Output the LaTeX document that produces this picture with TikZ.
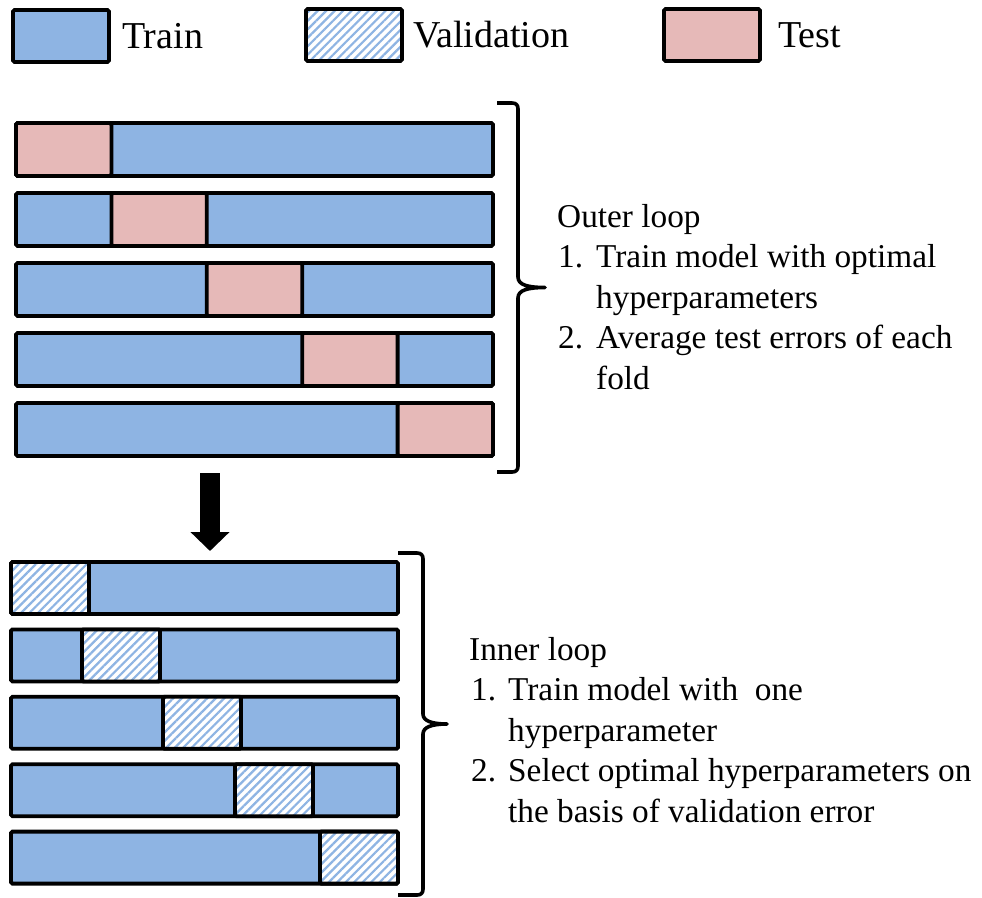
\documentclass[tikz,border=0pt]{standalone}
\usepackage{fontspec}
\setmainfont{Liberation Serif}
\usepackage{tikz}
\usetikzlibrary{arrows.meta, patterns.meta, positioning}

\definecolor{trainblue}{HTML}{8EB4E3}
\definecolor{testpink}{HTML}{E6B9B8}

\tikzset{
  fold/.style={draw, line width=3.8pt, rounded corners=1.5pt},
  trainfold/.style={fold, fill=trainblue},
  testfold/.style={fold, fill=testpink},
  valfold/.style={fold, preaction={fill=white},
    pattern={Lines[angle=45, distance=6pt, line width=2.2pt]}, pattern color=trainblue},
  keybox/.style={minimum width=96pt, minimum height=52pt, inner sep=0pt},
  keytext/.style={font=\fontsize{38}{45}\selectfont, inner sep=0pt},
  bracestroke/.style={line width=3.6pt, line join=round},
  looptext/.style={font=\fontsize{33.3}{40.6}\selectfont, inner sep=0pt, anchor=base west},
}

\begin{document}
\begin{tikzpicture}[x=1pt, y=-1pt]
\useasboundingbox (0,0) rectangle (982,897);
\fill[white] (0,0) rectangle (982,897);

% legend
\node[keybox, trainfold] (trainkey) at (61,36) {};
\node[keytext, right=11pt of trainkey] (trainlbl) {Train};
\node[keybox, valfold] (valkey) at (354,35) {};
\node[keytext, right=10pt of valkey] (vallbl) {Validation};
\node[keybox, testfold] (testkey) at (712,35) {};
\node[keytext, right=16pt of testkey] (testlbl) {Test};

% outer folds, test part moves one step right per row
\foreach \i in {0,...,4} {
  \draw[trainfold] (16,123+70*\i) rectangle ++(477,53);
  \draw[testfold] (16+95.4*\i,123+70*\i) rectangle ++(95.4,53);
}

% inner folds
\foreach \vx [count=\i from 0] in {11,82,163,235,320} {
  \draw[trainfold] (11,562+67.4*\i) rectangle ++(387,52);
  \draw[valfold] (\vx,562+67.4*\i) rectangle ++(78,52);
}

% arrow down to the inner loop
\coordinate (arrtop) at (210,473);
\coordinate (arrtip) at (210,551);
\draw[line width=20pt, -{Triangle[width=38pt, length=19pt]}] (arrtop) -- (arrtip);

% braces
\coordinate (obtop) at (497,103);
\coordinate (obbot) at (497,472);
\draw[bracestroke] (obtop) -- (512,103) .. controls (516,103) and (518,105) .. (518,109)
  -- (518,277) .. controls (518,285) and (528,287.5) .. (545,287.5)
  .. controls (528,287.5) and (518,290) .. (518,298)
  -- (518,466) .. controls (518,470) and (516,472) .. (512,472) -- (obbot);
\coordinate (ibtop) at (398,553);
\coordinate (ibbot) at (398,895);
\draw[bracestroke] (ibtop) -- (417,553) .. controls (421,553) and (423,555) .. (423,559)
  -- (423,714) .. controls (423,721) and (432,724) .. (447,724)
  .. controls (432,724) and (423,727) .. (423,734)
  -- (423,889) .. controls (423,893) and (421,895) .. (417,895) -- (ibbot);

\node[looptext] (outertxt) at (557,227) {\begin{tabular}[t]{@{}l@{}}
Outer loop\\
\hspace*{1pt}\makebox[38pt][l]{1.}Train model with optimal\\
\hspace*{39pt}hyperparameters\\
\hspace*{1pt}\makebox[38pt][l]{2.}Average test errors of each\\
\hspace*{39pt}fold
\end{tabular}};

\node[looptext] (innertxt) at (469,660) {\begin{tabular}[t]{@{}l@{}}
Inner loop\\
\hspace*{2pt}\makebox[37pt][l]{1.}Train model with~ one\\
\hspace*{39pt}hyperparameter\\
\hspace*{2pt}\makebox[37pt][l]{2.}Select optimal hyperparameters on\\
\hspace*{39pt}the basis of validation error
\end{tabular}};
\end{tikzpicture}
\end{document}
